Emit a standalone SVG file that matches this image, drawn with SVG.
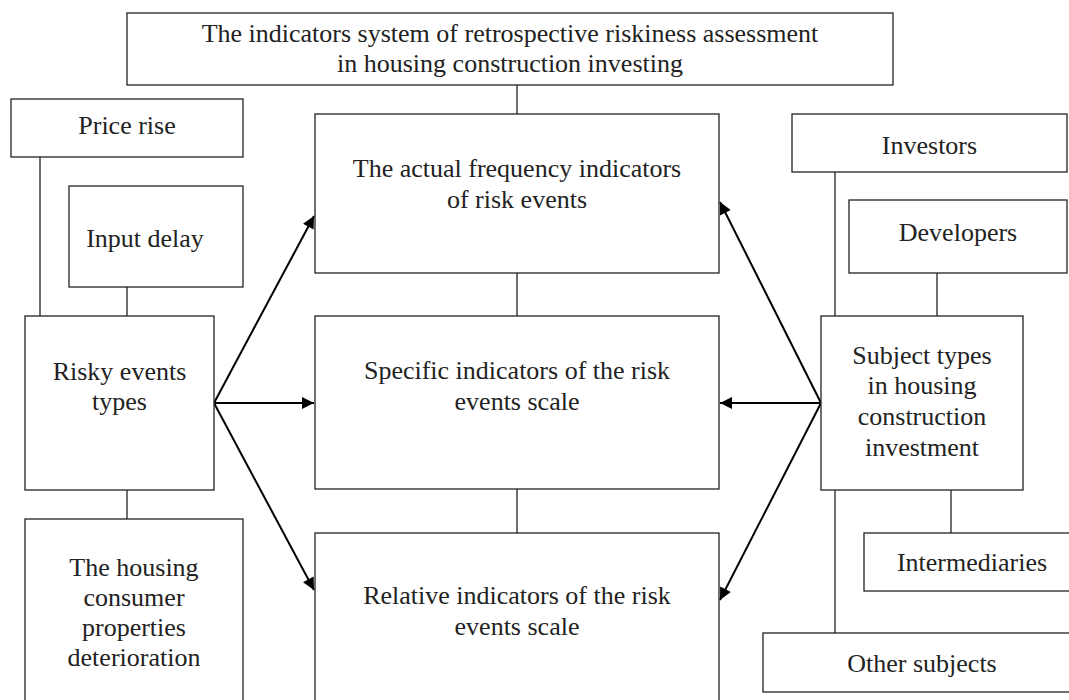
<svg xmlns="http://www.w3.org/2000/svg" width="1069" height="700" viewBox="0 0 1069 700">
<style>
.box{fill:#fff;stroke:#222;stroke-width:1.3}
.ln{stroke:#222;stroke-width:1.3;fill:none}
.ar{stroke:#000;stroke-width:2;fill:none}
text{font-size:26px;fill:#222;text-anchor:middle}
</style>
<defs>
<marker id="ah" viewBox="0 0 10 10" refX="10" refY="5" markerWidth="7" markerHeight="6" markerUnits="strokeWidth" orient="auto">
<path d="M0,0 L10,5 L0,10 z" fill="#000"/>
</marker>
</defs>
<rect width="1069" height="700" fill="#fff"/>
<g id="connectors">
<line class="ln" x1="517" y1="85" x2="517" y2="114"/>
<line class="ln" x1="517" y1="273" x2="517" y2="316"/>
<line class="ln" x1="517" y1="489" x2="517" y2="533"/>
<line class="ln" x1="40" y1="157" x2="40" y2="316"/>
<line class="ln" x1="127" y1="287" x2="127" y2="316"/>
<line class="ln" x1="127" y1="490" x2="127" y2="519"/>
<line class="ln" x1="835" y1="172" x2="835" y2="316"/>
<line class="ln" x1="835" y1="490" x2="835" y2="633"/>
<line class="ln" x1="937" y1="273" x2="937" y2="316"/>
<line class="ln" x1="951" y1="490" x2="951" y2="533"/>
<line class="ar" x1="214" y1="403" x2="314" y2="216" marker-end="url(#ah)"/>
<line class="ar" x1="214" y1="403" x2="314" y2="403" marker-end="url(#ah)"/>
<line class="ar" x1="214" y1="403" x2="314" y2="590" marker-end="url(#ah)"/>
<line class="ar" x1="821" y1="403" x2="720" y2="202" marker-end="url(#ah)"/>
<line class="ar" x1="821" y1="403" x2="720" y2="403" marker-end="url(#ah)"/>
<line class="ar" x1="821" y1="403" x2="720" y2="600" marker-end="url(#ah)"/>
</g>
<g font-family="Times New Roman, Liberation Serif, DejaVu Serif, serif">
<g id="title"><rect class="box" x="127" y="13" width="766" height="72"/>
<text x="510" y="42">The indicators system of retrospective riskiness assessment</text>
<text x="510" y="72">in housing construction investing</text></g>
<g id="price-rise"><rect class="box" x="11" y="99" width="232" height="58"/>
<text x="127" y="134">Price rise</text></g>
<g id="input-delay"><rect class="box" x="69" y="186" width="174" height="101"/>
<text x="145" y="247">Input delay</text></g>
<g id="risky-events"><rect class="box" x="25" y="316" width="189" height="174"/>
<text x="119.5" y="380">Risky events</text>
<text x="119.5" y="410">types</text></g>
<g id="housing-deterioration"><rect class="box" x="25" y="519" width="218" height="200"/>
<text x="134" y="576">The housing</text>
<text x="134" y="606">consumer</text>
<text x="134" y="636">properties</text>
<text x="134" y="666">deterioration</text></g>
<g id="actual-frequency"><rect class="box" x="315" y="114" width="404" height="159"/>
<text x="517" y="177">The actual frequency indicators</text>
<text x="517" y="208">of risk events</text></g>
<g id="specific-indicators"><rect class="box" x="315" y="316" width="404" height="173"/>
<text x="517" y="379">Specific indicators of the risk</text>
<text x="517" y="410">events scale</text></g>
<g id="relative-indicators"><rect class="box" x="315" y="533" width="404" height="200"/>
<text x="517" y="604">Relative indicators of the risk</text>
<text x="517" y="635">events scale</text></g>
<g id="investors"><rect class="box" x="792" y="114" width="275" height="58"/>
<text x="929.5" y="154">Investors</text></g>
<g id="developers"><rect class="box" x="849" y="200" width="218" height="73"/>
<text x="958" y="241">Developers</text></g>
<g id="subject-types"><rect class="box" x="821" y="316" width="202" height="174"/>
<text x="922" y="364">Subject types</text>
<text x="922" y="394">in housing</text>
<text x="922" y="425">construction</text>
<text x="922" y="456">investment</text></g>
<g id="intermediaries"><rect class="box" x="864" y="533" width="216" height="58"/>
<text x="972" y="571">Intermediaries</text></g>
<g id="other-subjects"><rect class="box" x="763" y="633" width="318" height="59"/>
<text x="922" y="672">Other subjects</text></g>
</g>
</svg>
